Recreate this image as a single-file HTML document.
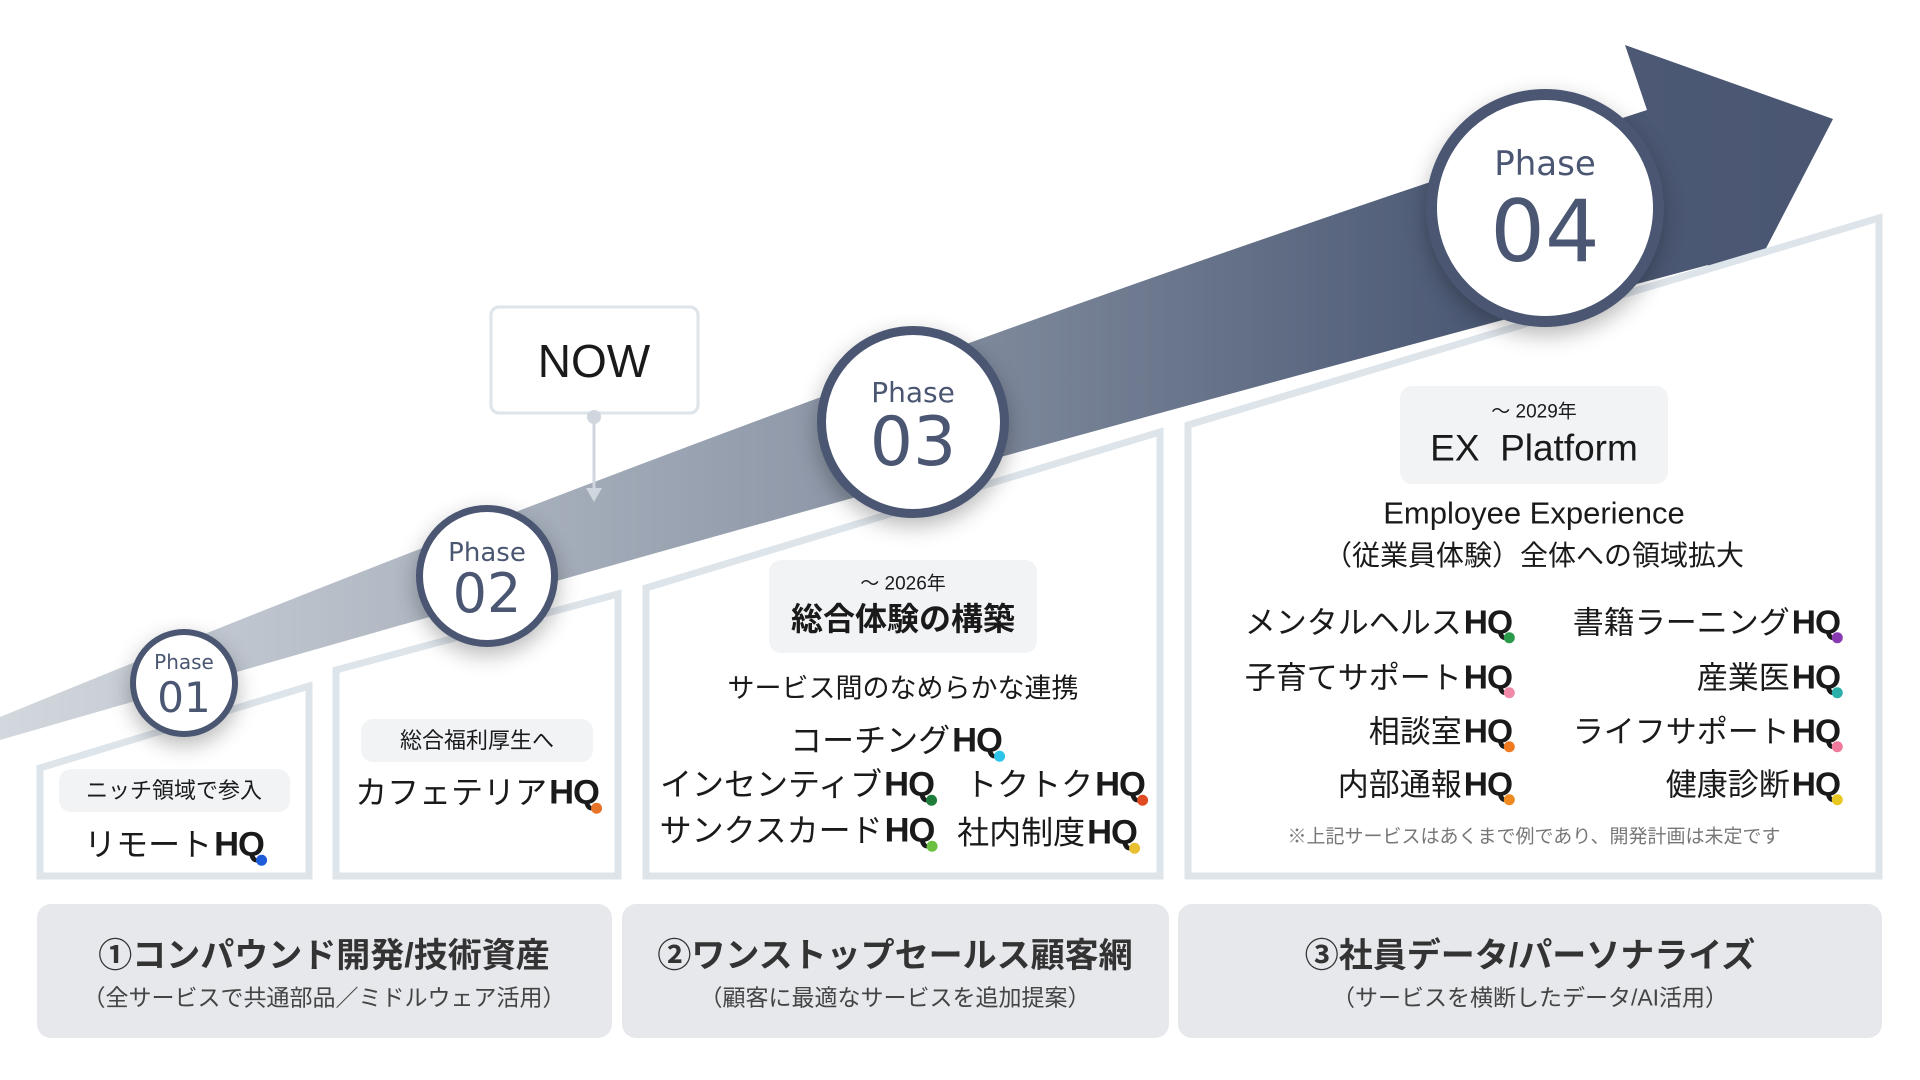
<!DOCTYPE html>
<html><head><meta charset="utf-8"><style>
*{margin:0;padding:0;box-sizing:border-box}
body{width:1920px;height:1080px;background:#fff;position:relative;overflow:hidden;font-family:"Liberation Sans","Noto Sans CJK JP",sans-serif;color:#1a1a1a}
.t{position:absolute;white-space:nowrap;transform:translate(-50%,-50%);line-height:1}
.r{transform:translate(-100%,-50%)}
.pill{position:absolute;background:#f1f3f5;border-radius:12px}
.hq{font-weight:bold;position:relative;letter-spacing:-1px;margin-left:2px;font-size:1.08em}
.hq i{position:absolute;right:-3px;bottom:-2px;width:11px;height:11px;border-radius:50%;font-style:normal}
.c{position:absolute;border-radius:50%;background:#fff;border:solid #4a5672;box-shadow:0 8px 22px rgba(0,0,0,.28)}
.ph{color:#4a5672;font-family:"DejaVu Sans","Noto Sans CJK JP",sans-serif}
.bar{position:absolute;top:904px;height:134px;background:#e6e8ec;border-radius:14px}
</style></head><body>
<svg width="1920" height="1080" style="position:absolute;left:0;top:0">
<defs><linearGradient id="g" x1="0" y1="0" x2="1" y2="0">
<stop offset="0" stop-color="#d3d8de"/><stop offset="0.45" stop-color="#8e98a8"/><stop offset="0.8" stop-color="#4d5a75"/><stop offset="1" stop-color="#4a5672"/></linearGradient></defs>
<path d="M0,717 Q820,380 1647,110 L1625,45 L1833,119 L1733,312 L1708,265 Q900,480 0,740 Z" fill="url(#g)"/>
<g fill="#fff" stroke="#dde4ea" stroke-width="7">
<polygon points="40,768 309,686 309,876 40,876"/>
<polygon points="336,670 618,594 618,876 336,876"/>
<polygon points="646,588 1160,432 1160,876 646,876"/>
<polygon points="1188,425 1879,218 1879,876 1188,876"/>
</g>
<rect x="491" y="307" width="207" height="106" rx="8" fill="#fff" stroke="#dde4ea" stroke-width="3"/>
<circle cx="594" cy="417" r="7" fill="#cfd6dd"/>
<line x1="594" y1="417" x2="594" y2="492" stroke="#cfd6dd" stroke-width="3"/>
<polygon points="586,488 602,488 594,502" fill="#cfd6dd"/>
</svg>
<div class="t" style="left:594px;top:361px;font-size:46px;font-weight:500">NOW</div>

<div class="c" style="left:130px;top:629px;width:108px;height:108px;border-width:6px"></div>
<div class="t ph" style="left:184px;top:662px;font-size:20px">Phase</div>
<div class="t ph" style="left:184px;top:698px;font-size:42px">01</div>
<div class="c" style="left:416px;top:505px;width:142px;height:142px;border-width:7px"></div>
<div class="t ph" style="left:487px;top:553px;font-size:26px">Phase</div>
<div class="t ph" style="left:487px;top:594px;font-size:54px">02</div>
<div class="c" style="left:817px;top:326px;width:192px;height:192px;border-width:9px"></div>
<div class="t ph" style="left:913px;top:393px;font-size:28px">Phase</div>
<div class="t ph" style="left:913px;top:443px;font-size:68px">03</div>
<div class="c" style="left:1426px;top:89px;width:238px;height:238px;border-width:11px"></div>
<div class="t ph" style="left:1545px;top:164px;font-size:34px">Phase</div>
<div class="t ph" style="left:1545px;top:232px;font-size:86px">04</div>

<div class="pill" style="left:59px;top:769px;width:231px;height:43px"></div>
<div class="t" style="left:174px;top:791px;font-size:22px">ニッチ領域で参入</div>
<div class="t" style="left:174px;top:845px;font-size:32px">リモート<span class="hq">HQ<i style="background:#1e5bd8"></i></span></div>

<div class="pill" style="left:361px;top:719px;width:232px;height:43px"></div>
<div class="t" style="left:477px;top:741px;font-size:22px">総合福利厚生へ</div>
<div class="t" style="left:477px;top:793px;font-size:32px">カフェテリア<span class="hq">HQ<i style="background:#e8742a"></i></span></div>

<div class="pill" style="left:769px;top:560px;width:268px;height:93px"></div>
<div class="t" style="left:903px;top:584px;font-size:19px">～ 2026年</div>
<div class="t" style="left:903px;top:619px;font-size:32px;font-weight:bold">総合体験の構築</div>
<div class="t" style="left:903px;top:689px;font-size:27px">サービス間のなめらかな連携</div>
<div class="t" style="left:896px;top:741px;font-size:32px">コーチング<span class="hq">HQ<i style="background:#2cc4e8"></i></span></div>
<div class="t" style="left:797px;top:785px;font-size:32px">インセンティブ<span class="hq">HQ<i style="background:#1e7d3a"></i></span></div>
<div class="t" style="left:1055px;top:785px;font-size:32px">トクトク<span class="hq">HQ<i style="background:#e04a20"></i></span></div>
<div class="t" style="left:797px;top:831px;font-size:32px">サンクスカード<span class="hq">HQ<i style="background:#6cc040"></i></span></div>
<div class="t" style="left:1047px;top:833px;font-size:32px">社内制度<span class="hq">HQ<i style="background:#e8c030"></i></span></div>

<div class="pill" style="left:1400px;top:386px;width:268px;height:98px"></div>
<div class="t" style="left:1534px;top:412px;font-size:19px">～ 2029年</div>
<div class="t" style="left:1534px;top:448px;font-size:37px">EX&nbsp; Platform</div>
<div class="t" style="left:1534px;top:513px;font-size:31px">Employee Experience</div>
<div class="t" style="left:1534px;top:556px;font-size:28px">（従業員体験）全体への領域拡大</div>
<div class="t r" style="left:1512px;top:623px;font-size:31px">メンタルヘルス<span class="hq">HQ<i style="background:#2a9a4a"></i></span></div>
<div class="t r" style="left:1512px;top:678px;font-size:31px">子育てサポート<span class="hq">HQ<i style="background:#f08aa8"></i></span></div>
<div class="t r" style="left:1512px;top:732px;font-size:31px">相談室<span class="hq">HQ<i style="background:#f07a20"></i></span></div>
<div class="t r" style="left:1512px;top:785px;font-size:31px">内部通報<span class="hq">HQ<i style="background:#f08a20"></i></span></div>
<div class="t r" style="left:1840px;top:623px;font-size:31px">書籍ラーニング<span class="hq">HQ<i style="background:#8a3ab0"></i></span></div>
<div class="t r" style="left:1840px;top:678px;font-size:31px">産業医<span class="hq">HQ<i style="background:#2ab0a8"></i></span></div>
<div class="t r" style="left:1840px;top:732px;font-size:31px">ライフサポート<span class="hq">HQ<i style="background:#f07a9a"></i></span></div>
<div class="t r" style="left:1840px;top:785px;font-size:31px">健康診断<span class="hq">HQ<i style="background:#e8c820"></i></span></div>
<div class="t" style="left:1534px;top:837px;font-size:19px;color:#777">※上記サービスはあくまで例であり、開発計画は未定です</div>

<div class="bar" style="left:37px;width:575px"></div>
<div class="bar" style="left:622px;width:547px"></div>
<div class="bar" style="left:1178px;width:704px"></div>
<div class="t" style="left:324px;top:956px;font-size:34px;font-weight:bold;color:#333">①コンパウンド開発/技術資産</div>
<div class="t" style="left:324px;top:998px;font-size:23px;color:#444">（全サービスで共通部品／ミドルウェア活用）</div>
<div class="t" style="left:895px;top:956px;font-size:34px;font-weight:bold;color:#333">②ワンストップセールス顧客網</div>
<div class="t" style="left:895px;top:998px;font-size:23px;color:#444">（顧客に最適なサービスを追加提案）</div>
<div class="t" style="left:1530px;top:956px;font-size:34px;font-weight:bold;color:#333">③社員データ/パーソナライズ</div>
<div class="t" style="left:1530px;top:998px;font-size:23px;color:#444">（サービスを横断したデータ/AI活用）</div>
</body></html>
